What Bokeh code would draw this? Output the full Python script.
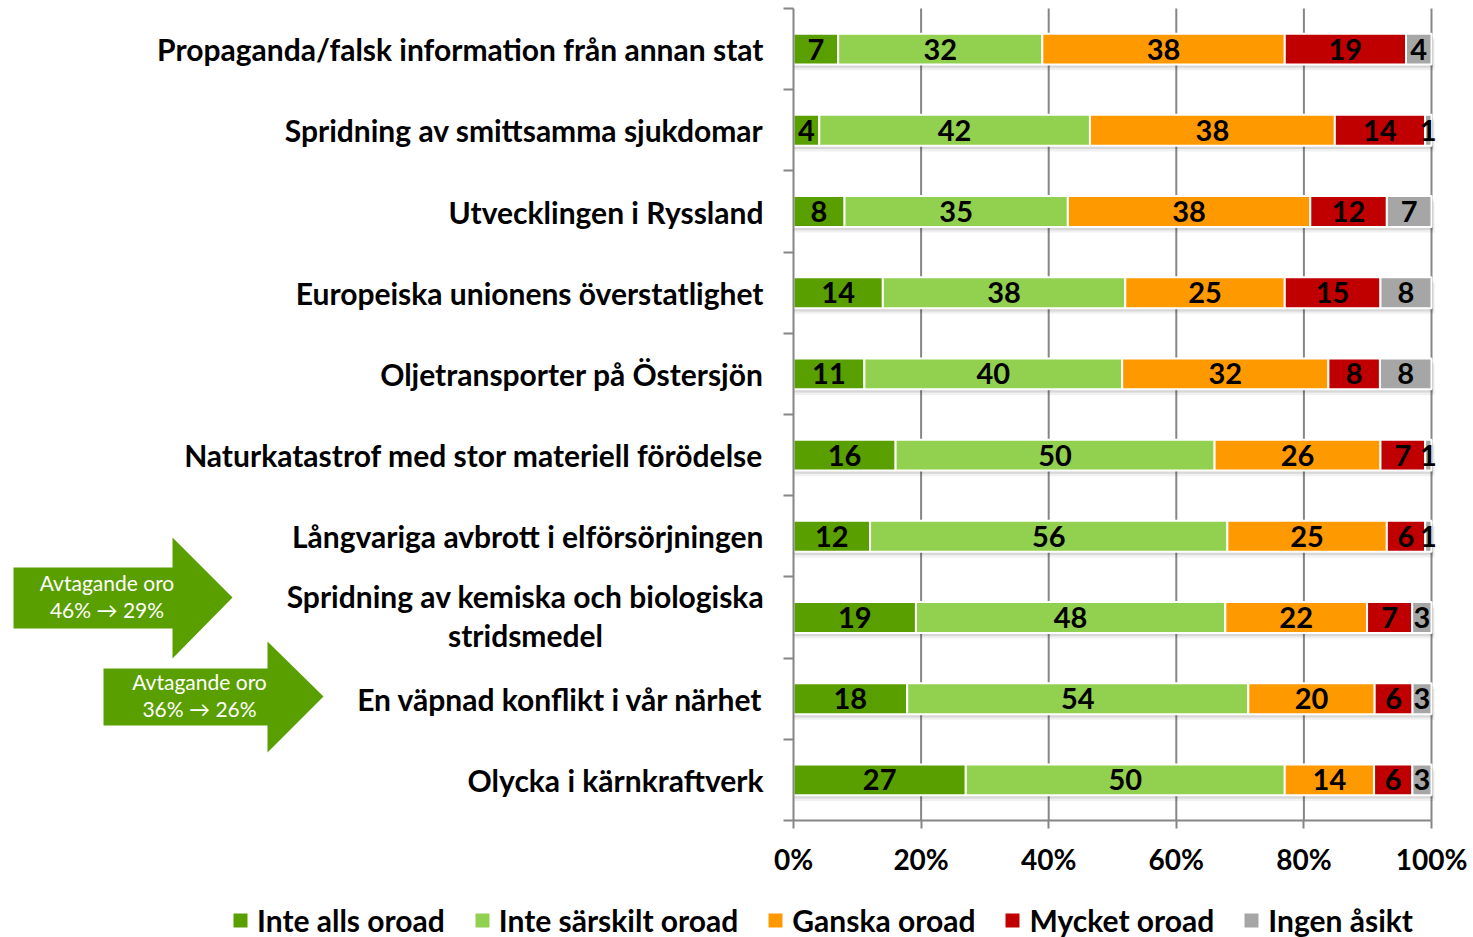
from bokeh.plotting import figure
from bokeh.models import (ColumnDataSource, FixedTicker, Range1d, Legend, LegendItem,
                          LinearAxis)
from bokeh.core.properties import value
from bokeh.embed import file_html
from bokeh.resources import INLINE

# ---------------- data ----------------
categories = [
    "Propaganda/falsk information från annan stat",
    "Spridning av smittsamma sjukdomar",
    "Utvecklingen i Ryssland",
    "Europeiska unionens överstatlighet",
    "Oljetransporter på Östersjön",
    "Naturkatastrof med stor materiell förödelse",
    "Långvariga avbrott i elförsörjningen",
    "Spridning av kemiska och biologiska\nstridsmedel",
    "En väpnad konflikt i vår närhet",
    "Olycka i kärnkraftverk",
]
inte_alls = [7, 4, 8, 14, 11, 16, 12, 19, 18, 27]
inte_sarskilt = [32, 42, 35, 38, 40, 50, 56, 48, 54, 50]
ganska = [38, 38, 38, 25, 32, 26, 25, 22, 20, 14]
mycket = [19, 14, 12, 15, 8, 7, 6, 7, 6, 6]
ingen = [4, 1, 7, 8, 8, 1, 1, 3, 3, 3]
series_names = ["Inte alls oroad", "Inte särskilt oroad", "Ganska oroad",
                "Mycket oroad", "Ingen åsikt"]
x_ticks = [0, 20, 40, 60, 80, 100]
x_tick_labels = ["0%", "20%", "40%", "60%", "80%", "100%"]
arrow_texts = [("Avtagande oro", "46% \u2192 29%"), ("Avtagande oro", "36% \u2192 26%")]

# ---------------- styles / layout ----------------
colors = ["#5A9F00", "#92D050", "#FF9900", "#C00000", "#A6A6A6"]
ARROW_COLOR = "#5A9F00"
FONT = "Lato"
AXIS_GRAY = "#868686"
CAT_FONT_SIZE = "30px"

W, H = 1473, 937
PX0, PX100 = 793, 1431   # canvas px of 0% and 100%
PY_TOP, PY_BOT = 8, 820  # canvas px of plot area top / bottom
n = len(categories)

def dx(px):
    return (px - PX0) / (PX100 - PX0) * 100.0

def dy(py):
    return (PY_BOT - py) / (PY_BOT - PY_TOP) * n

p = figure(width=W, height=H, output_backend="svg", toolbar_location=None, tools="",
           x_range=Range1d(dx(0), dx(W)), y_range=Range1d(dy(H), dy(0)),
           x_axis_location=None, y_axis_location=None,
           min_border=0, min_border_left=0, min_border_right=0,
           min_border_top=0, min_border_bottom=0)
p.outline_line_color = None
p.xgrid.visible = False
p.ygrid.visible = False
p.background_fill_color = "white"
p.border_fill_color = "white"

centers = [n - i - 0.5 for i in range(n)]
boundaries = [float(k) for k in range(n + 1)]
series = [inte_alls, inte_sarskilt, ganska, mycket, ingen]
totals = [sum(s[i] for s in series) for i in range(n)]

# vertical grid lines
p.segment(x0=x_ticks[1:], x1=x_ticks[1:], y0=0, y1=n, line_color=AXIS_GRAY, line_width=2)

BAR_H = 0.38
# soft shadow under bars
p.hbar(y=[c - 0.07 for c in centers], left=0, right=100.5, height=BAR_H,
       fill_color="black", fill_alpha=0.06, line_color=None)
p.hbar(y=[c - 0.04 for c in centers], left=0, right=100.3, height=BAR_H,
       fill_color="black", fill_alpha=0.10, line_color=None)

renderers = []
cum = [0.0] * n
for name, vals, col in zip(series_names, series, colors):
    left = cum[:]
    right = [cum[i] + vals[i] * 100.0 / totals[i] for i in range(n)]
    src = ColumnDataSource(dict(y=centers, left=left, right=right,
                                mid=[(l + r) / 2 for l, r in zip(left, right)],
                                txt=[str(v) for v in vals]))
    r = p.hbar(y="y", left="left", right="right", height=BAR_H, source=src,
               fill_color=col, line_color="white", line_width=2)
    p.text(x="mid", y="y", text="txt", source=src, text_align="center",
           text_baseline="middle", text_font=value(FONT), text_font_style="bold",
           text_font_size="29px", text_color="black", y_offset=0)
    renderers.append(r)
    cum = right

# ---------------- axes ----------------
yax = LinearAxis(fixed_location=0, bounds=(0, n),
                 ticker=FixedTicker(ticks=centers, minor_ticks=boundaries))
overrides = {c: lab for c, lab in zip(centers, categories)}
multi = [i for i, lab in enumerate(categories) if "\n" in lab]
for i in multi:
    overrides[centers[i]] = ""
yax.major_label_overrides = overrides
yax.major_tick_out = 0
yax.major_tick_in = 0
yax.minor_tick_out = 10
yax.minor_tick_in = 0
yax.minor_tick_line_color = AXIS_GRAY
yax.minor_tick_line_width = 2
yax.axis_line_color = AXIS_GRAY
yax.axis_line_width = 2
yax.major_label_standoff = 20
yax.major_label_text_font = FONT
yax.major_label_text_font_style = "bold"
yax.major_label_text_font_size = CAT_FONT_SIZE
yax.major_label_text_color = "black"
p.add_layout(yax, "left")

# two-line category label, lines centred on each other
ml_x, ml_y, ml_t = [], [], []
for i in multi:
    lines = categories[i].split("\n")
    for k, line in enumerate(lines):
        ml_x.append(dx(525))
        ml_y.append(centers[i] + (0.26 if k == 0 else -0.21))
        ml_t.append(line)
p.text(x=ml_x, y=ml_y, text=ml_t, text_align="center", text_baseline="middle",
       text_font=value(FONT), text_font_style="bold", text_font_size=CAT_FONT_SIZE,
       text_color="black")

xax = LinearAxis(fixed_location=0, bounds=(0, 100),
                 ticker=FixedTicker(ticks=x_ticks, minor_ticks=[]))
xax.major_label_overrides = {t: l for t, l in zip(x_ticks, x_tick_labels)}
xax.major_tick_out = 8
xax.major_tick_in = 0
xax.major_tick_line_color = AXIS_GRAY
xax.major_tick_line_width = 2
xax.axis_line_color = AXIS_GRAY
xax.axis_line_width = 2
xax.major_label_standoff = 13
xax.major_label_text_font = FONT
xax.major_label_text_font_style = "bold"
xax.major_label_text_font_size = "28px"
xax.major_label_text_color = "black"
p.add_layout(xax, "below")

# ---------------- arrows ----------------
arrow_geo = [
    # body_left, body_top, body_bottom, body_right, head_top, head_bottom, tip_x, tip_y
    (13, 567, 628, 172, 537, 658, 232, 597),
    (103, 668, 725, 267, 641, 752, 323, 696),
]
axs, ays, tx_, ty_, tt_ = [], [], [], [], []
for (bl, bt, bb, br, ht, hb, tx, ty), (l1, l2) in zip(arrow_geo, arrow_texts):
    xs = [bl, br, br, tx, br, br, bl]
    ys = [bt, bt, ht, ty, hb, bb, bb]
    axs.append([dx(v) for v in xs])
    ays.append([dy(v) for v in ys])
    cx = (bl + br) / 2 + 14
    for txt, off in [(l1, -15), (l2, 12)]:
        tx_.append(dx(cx)); ty_.append(dy(ty + off)); tt_.append(txt)
p.patches(xs=axs, ys=ays, fill_color=ARROW_COLOR, line_color=None)
p.text(x=tx_, y=ty_, text=tt_, text_align="center", text_baseline="middle",
       text_font=value(FONT), text_font_size="21px", text_color="white")

# ---------------- legend ----------------
legend = Legend(items=[LegendItem(label=nm, renderers=[r]) for nm, r in zip(series_names, renderers)],
                orientation="horizontal", location=(230, -1),
                glyph_width=20, glyph_height=20, label_standoff=7, spacing=27,
                label_text_font=FONT, label_text_font_style="bold",
                label_text_font_size="30px", label_text_color="black",
                border_line_color=None, background_fill_alpha=0, padding=0, margin=0)
p.add_layout(legend, "center")

open("out.html", "w").write(file_html(p, INLINE))
